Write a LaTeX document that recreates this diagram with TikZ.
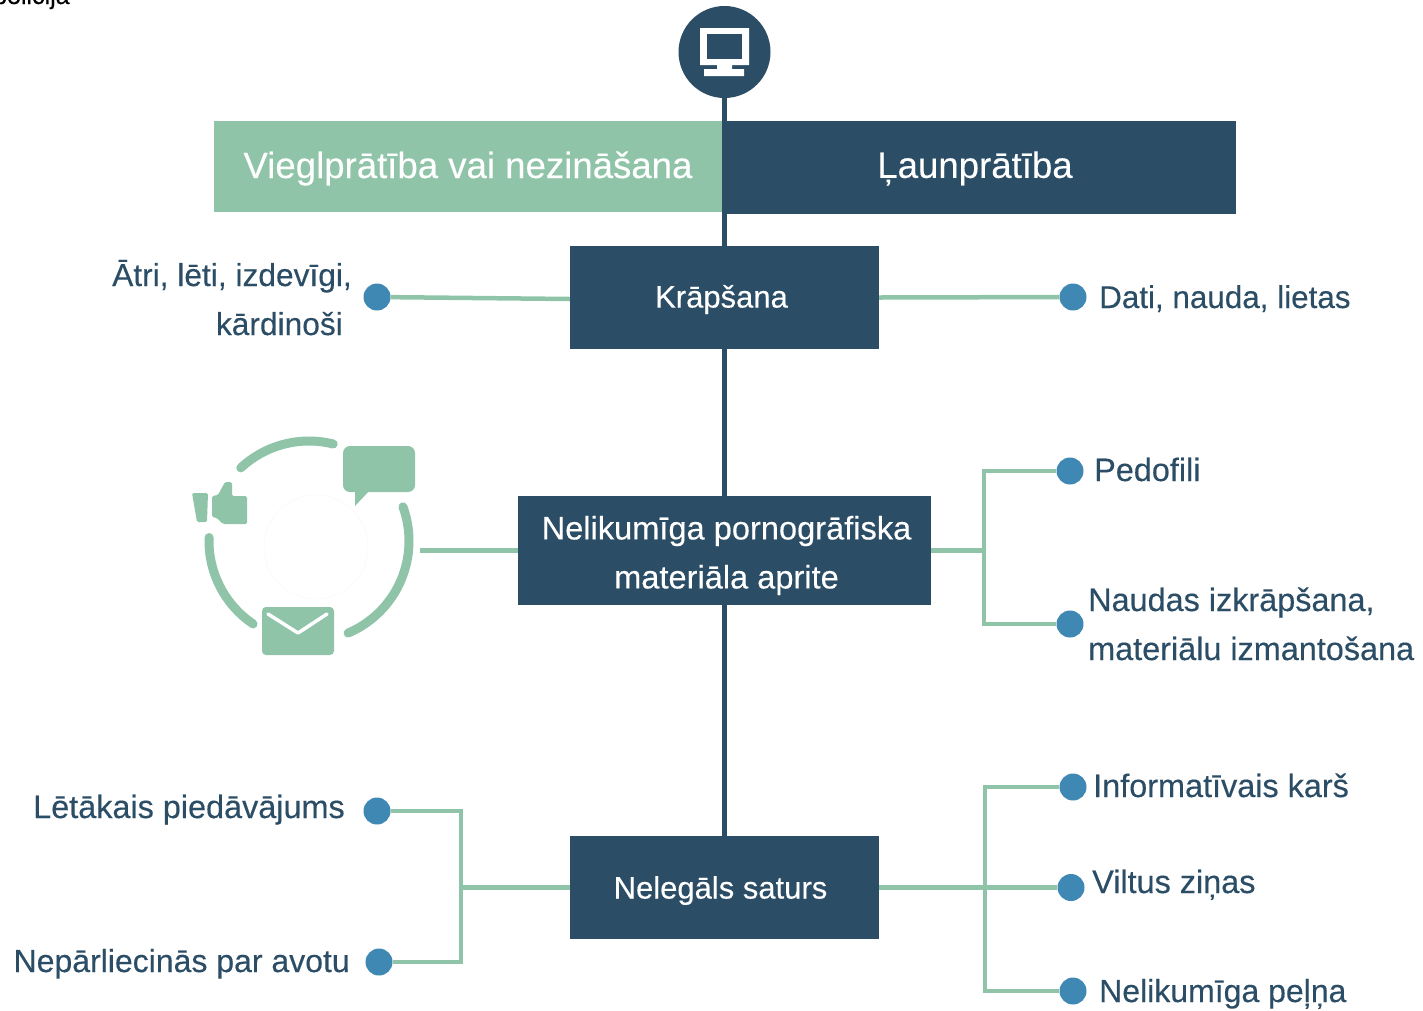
\documentclass[tikz,border=0pt]{standalone}
\usepackage{fontspec}
\setmainfont[FakeBold=0.25]{Liberation Sans}
\definecolor{navy}{HTML}{2B4D66}
\definecolor{mint}{HTML}{8FC4A9}
\definecolor{dotblue}{HTML}{3F88B3}
\newcommand\nudge[3]{\raisebox{-#2pt}[\height][\depth]{\hspace*{#1pt}#3\hspace*{-#1pt}}}
\tikzset{
  box/.style={fill=navy,text=white,inner sep=0pt,font=\fontsize{31}{49}\selectfont,align=center},
  topbox/.style={inner sep=0pt,text=white,font=\fontsize{36.6}{44}\selectfont},
  dotn/.style={circle,fill=dotblue,minimum size=27pt,inner sep=0pt},
  lbl/.style={text=navy,inner sep=0pt,font=\fontsize{32.4}{49}\selectfont,anchor=base west,align=left},
  lblr/.style={lbl,anchor=base east,align=right},
  conn/.style={draw=mint,line width=4.5pt},
  spine/.style={draw=navy,line width=5pt},
  icon/.style={fill=mint,draw=none},
  ring/.style={draw=mint,line width=9pt,line cap=round}
}
\begin{document}
\begin{tikzpicture}[x=1pt,y=-1pt]
\path[use as bounding box,fill=white] (0,0) rectangle (1423,1010);
\begin{scope}
\clip (0,0) rectangle (1423,1010);
\node[inner sep=0pt,anchor=base west,font=\fontsize{25}{28}\selectfont,text=black] (pol) at (-7,4) {policija};
\end{scope}

% boxes
\node[topbox,fill=mint,minimum width=508pt,minimum height=91pt] (vieg) at (468,166.5) {\nudge{0}{2}{Vieglprātība vai nezināšana}};
\node[topbox,fill=navy,minimum width=514pt,minimum height=93pt] (laun) at (979,167.5) {\nudge{-4}{1}{Ļaunprātība}};
\node[box,minimum width=309pt,minimum height=103pt] (krap) at (724.5,297.5) {\nudge{-3}{2}{Krāpšana}};
\node[box,font=\fontsize{32.6}{49}\selectfont,minimum width=413pt,minimum height=109pt] (nelik) at (724.5,550.5) {\nudge{2}{5}{Nelikumīga pornogrāfiska}\\\nudge{2}{5}{materiāla aprite}};
\node[box,minimum width=309pt,minimum height=103pt] (sat) at (724.5,887.5) {\nudge{-4}{3}{Nelegāls saturs}};

% monitor badge
\node[circle,fill=navy,minimum size=92pt,inner sep=0pt] (mon) at (724.5,52) {};
\fill[white] (700,28) rectangle (749,65) (717,65) rectangle (732,69) (704,69) rectangle (744,76);
\fill[navy] (707,34) rectangle (742,59);

% spine
\draw[spine] (mon) -- (laun.north -| mon);
\draw[spine] (laun.south -| mon) -- (krap);
\draw[spine] (krap) -- (nelik);
\draw[spine] (nelik) -- (sat);

% dots
\node[dotn] (d1) at (377,297) {};
\node[dotn] (d2) at (1073,297) {};
\node[dotn] (d3) at (1070,471) {};
\node[dotn] (d4) at (1070,624) {};
\node[dotn] (d5) at (377,811) {};
\node[dotn] (d6) at (379,962) {};
\node[dotn] (d7) at (1073,787) {};
\node[dotn] (d8) at (1071,887.5) {};
\node[dotn] (d9) at (1073,991) {};

% labels
\node[lblr,font=\fontsize{31.7}{49}\selectfont] (t1) at (352,335) {Ātri, lēti, izdevīgi,\\kārdinoši\hspace*{9pt}};
\node[lbl,font=\fontsize{31.4}{49}\selectfont] (t2) at (1099,308) {Dati, nauda, lietas};
\node[lbl] (t3) at (1094,481) {Pedofili};
\node[lbl] (t4) at (1088,660) {Naudas izkrāpšana,\\materiālu izmantošana};
\node[lblr] (t5) at (345,818) {Lētākais piedāvājums};
\node[lblr,font=\fontsize{32}{49}\selectfont] (t6) at (350,972) {Nepārliecinās par avotu};
\node[lbl] (t7) at (1093,797) {Informatīvais karš};
\node[lbl] (t8) at (1092,893) {Viltus ziņas};
\node[lbl,font=\fontsize{32}{49}\selectfont] (t9) at (1099,1002) {Nelikumīga peļņa};

% junctions and free ends
\coordinate (jr2) at (984,550.5);
\coordinate (jl3) at (461,887.5);
\coordinate (jr3) at (985,887.5);
\coordinate (free) at (420,550.5);

% connectors
\draw[conn] ([yshift=-1.5pt]krap.west) -- (d1);
\draw[conn] (krap.east) -- (d2);
\draw[conn] (nelik.west) -- (free);
\draw[conn] (nelik.east) -- (jr2);
\draw[conn] (d3) -| (jr2);
\draw[conn] (d4) -| (jr2);
\draw[conn] (sat.west) -- (jl3);
\draw[conn] (d5) -| (jl3);
\draw[conn] (d6) -| (jl3);
\draw[conn] (sat.east) -- (d8);
\draw[conn] (d7) -| (jr3);
\draw[conn] (d9) -| (jr3);

% cycle icon
\draw[draw=black!2,line width=.6pt] (316,547) circle[radius=52];
\draw[ring] plot[domain=227:284,samples=30] ({309+100*cos(\x)},{541+100*sin(\x)});
\draw[ring] plot[domain=-20:67,samples=40] ({309+100*cos(\x)},{541+100*sin(\x)});
\draw[ring] plot[domain=124:182,samples=30] ({309+100*cos(\x)},{541+100*sin(\x)});
% thumb
\fill[icon,rounded corners=1.5pt] (192,493) -- (208,493) -- (207,522) -- (197,522) -- cycle;
\fill[icon,rounded corners=1.5pt] (212,496) -- (218,495) -- (225,482) -- (232,482) -- (232,496) -- (247,496) -- (247,524) -- (223,524) -- (217,518) -- (212,517) -- cycle;
% bubble
\fill[icon,rounded corners=7pt] (343,446) rectangle (415,492);
\fill[icon] (355,490) -- (355,506) -- (370,490) -- cycle;
% envelope
\fill[icon,rounded corners=4pt] (262,607) rectangle (334,655);
\draw[white,line width=3.5pt,line cap=round,line join=round] (268,614) -- (298,633) -- (327,614);
\end{tikzpicture}
\end{document}
